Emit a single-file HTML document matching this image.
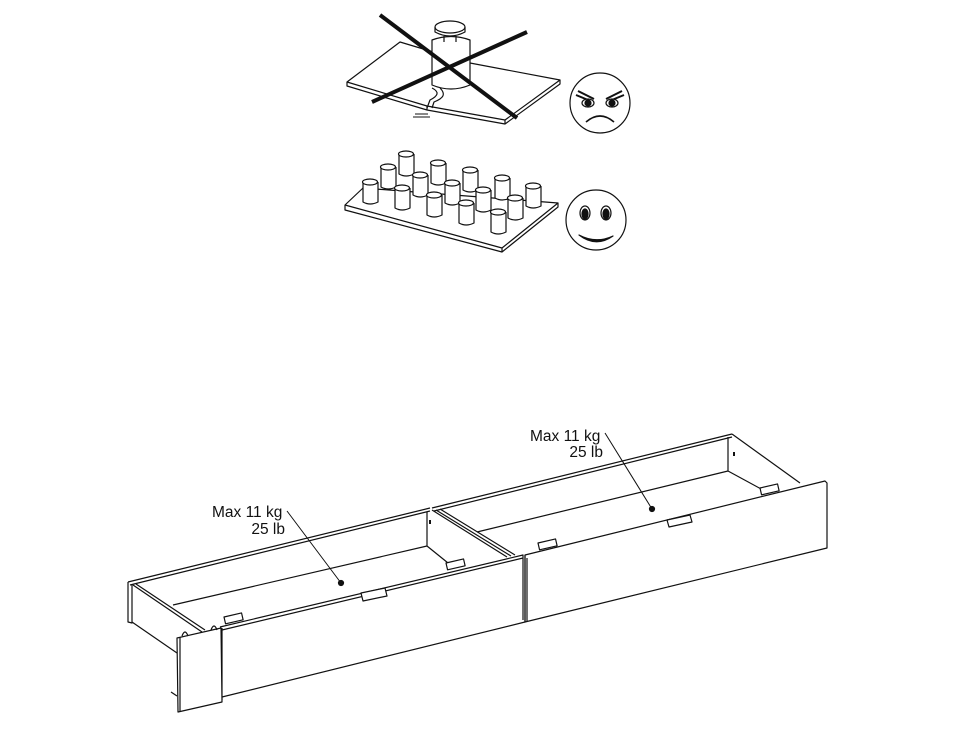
<!DOCTYPE html>
<html><head><style>html,body{margin:0;padding:0;background:#fff}svg{display:block}</style></head><body>
<svg width="970" height="729" viewBox="0 0 970 729" xmlns="http://www.w3.org/2000/svg" fill="none" stroke="#111" stroke-width="1.2" stroke-linejoin="round">
<!-- plate 1 -->
<path d="M347,82 L400,42 L470,63 L560,80 L505,120 L427,106 Z" fill="#fff"/>
<path d="M347,82 L347,86 L427,110 L505,124 L560,84 L560,80 M427,106 L427,110 M505,120 L505,124"/>
<path d="M432,88 C440,92 438,96 430,100 L427,108 M440,88 C446,94 444,98 434,102 L432,108"/>
<path d="M415,114 L428,114 M413,117 L430,117" stroke-width="1"/>
<!-- weight -->
<path d="M432,40 L432,85 Q451,93 470,85 L470,40 Q451,33 432,40 Z" fill="#fff"/>
<ellipse cx="450" cy="27" rx="15" ry="6" fill="#fff"/>
<path d="M435,27 L435,32 Q450,40 465,32 L465,27"/>
<path d="M444,36 L444,42 M456,36 L456,42"/>
<path d="M380,15 L517,118 M372,102 L527,32" stroke-width="4"/>
<!-- angry face -->
<circle cx="600" cy="103" r="30" fill="#fff"/>
<path d="M576,95 L593,102 M578,91 L594,99 M624,95 L607,102 M622,91 L606,99" stroke-width="2"/>
<ellipse cx="588" cy="103" rx="6" ry="4" fill="#fff"/><ellipse cx="588" cy="103" rx="3" ry="3" fill="#111"/>
<ellipse cx="612" cy="103" rx="6" ry="4" fill="#fff"/><ellipse cx="612" cy="103" rx="3" ry="3" fill="#111"/>
<path d="M586,122 Q600,110 614,122" stroke-width="1.6"/>
<!-- plate 2 -->
<path d="M345,205 L363,188 L558,203 L558,207 L502,252 L345,210 Z" fill="#fff"/>
<path d="M345,205 L502,248 L558,203 M502,248 L502,252"/>
<g fill="#fff">
<path d="M363,182 v20 q7,4 15,0 v-20"/><ellipse cx="370" cy="182" rx="7.5" ry="3"/>
<path d="M381,167 v20 q7,4 15,0 v-20"/><ellipse cx="388" cy="167" rx="7.5" ry="3"/>
<path d="M399,154 v20 q7,4 15,0 v-20"/><ellipse cx="406" cy="154" rx="7.5" ry="3"/>
<path d="M431,163 v20 q7,4 15,0 v-20"/><ellipse cx="438" cy="163" rx="7.5" ry="3"/>
<path d="M463,170 v20 q7,4 15,0 v-20"/><ellipse cx="470" cy="170" rx="7.5" ry="3"/>
<path d="M495,178 v20 q7,4 15,0 v-20"/><ellipse cx="502" cy="178" rx="7.5" ry="3"/>
<path d="M526,186 v20 q7,4 15,0 v-20"/><ellipse cx="533" cy="186" rx="7.5" ry="3"/>
<path d="M413,175 v20 q7,4 15,0 v-20"/><ellipse cx="420" cy="175" rx="7.5" ry="3"/>
<path d="M445,183 v20 q7,4 15,0 v-20"/><ellipse cx="452" cy="183" rx="7.5" ry="3"/>
<path d="M476,190 v20 q7,4 15,0 v-20"/><ellipse cx="483" cy="190" rx="7.5" ry="3"/>
<path d="M508,198 v20 q7,4 15,0 v-20"/><ellipse cx="515" cy="198" rx="7.5" ry="3"/>
<path d="M395,188 v20 q7,4 15,0 v-20"/><ellipse cx="402" cy="188" rx="7.5" ry="3"/>
<path d="M427,195 v20 q7,4 15,0 v-20"/><ellipse cx="434" cy="195" rx="7.5" ry="3"/>
<path d="M459,203 v20 q7,4 15,0 v-20"/><ellipse cx="466" cy="203" rx="7.5" ry="3"/>
<path d="M491,212 v20 q7,4 15,0 v-20"/><ellipse cx="498" cy="212" rx="7.5" ry="3"/>
</g>
<!-- happy face -->
<circle cx="596" cy="220" r="30" fill="#fff"/>
<ellipse cx="585" cy="213" rx="5" ry="7"/><ellipse cx="585" cy="214" rx="3" ry="5" fill="#111"/>
<ellipse cx="606" cy="213" rx="5" ry="7"/><ellipse cx="606" cy="214" rx="3" ry="5" fill="#111"/>
<path d="M579,235 Q596,248 613,236 Q596,244 579,235 Z" fill="#111"/>

<!-- drawer 1 -->
<path d="M128,582 L430,508 M130,585 L430,511" />
<path d="M128,582 L128,622 L132,623 L132,584 M132,622 L177,653"/>
<path d="M133,585 L202,632 M136,584 L205,630"/>
<path d="M173,605 L427,546 M427,512 L427,546 L453,567"/>
<path d="M432,510 L507,557 M436,510 L511,556 M440,509 L515,555"/>
<path d="M220,627 L523,555 L523,620 M222,630 L523,558 M222,697 L525,622"/>
<path d="M222,628 L222,700"/>
<path d="M177,638 L221,628 L222,702 L178,712 Z" fill="#fff"/>
<path d="M180,637 L180,711"/>
<path d="M182,636 q3,-8 6,0 M211,630 q3,-8 6,0 M171,692 l6,4"/>
<rect x="224" y="617" width="18" height="7" transform="rotate(-13 224 617)" fill="#fff"/>
<rect x="446" y="563" width="18" height="7" transform="rotate(-13 446 563)" fill="#fff"/>
<path d="M361,593 L385,588 L387,596 L363,601 Z" fill="#fff"/>
<path d="M430,520 l0,4" stroke-width="2"/>
<!-- drawer 2 -->
<path d="M432,508 L732,434 M434,511 L732,437"/>
<path d="M732,434 L800,483 M728,437 L728,471 L763,490"/>
<path d="M477,532 L728,471"/>
<path d="M525,555 L825,481 L827,483 L827,548 L525,622 Z" fill="#fff"/>
<path d="M525,555 L525,622 M527,558 L527,621"/>
<rect x="538" y="543" width="18" height="7" transform="rotate(-13 538 543)" fill="#fff"/>
<rect x="760" y="488" width="18" height="7" transform="rotate(-13 760 488)" fill="#fff"/>
<path d="M667,520 L690,515 L692,522 L669,527 Z" fill="#fff"/>
<path d="M734,452 l0,4" stroke-width="2"/>
<!-- labels -->
<path d="M287,511 L341,583 M605,433 L652,509" stroke-width="1"/>
<circle cx="341" cy="583" r="2.5" fill="#111"/>
<circle cx="652" cy="509" r="2.5" fill="#111"/>
<g font-family="Liberation Sans, sans-serif" font-size="15.5" fill="#111" stroke="none">
<text x="212" y="517">Max 11 kg</text>
<text x="285" y="534" text-anchor="end">25 lb</text>
<text x="530" y="441">Max 11 kg</text>
<text x="603" y="457" text-anchor="end">25 lb</text>
</g>
</svg>
</body></html>
